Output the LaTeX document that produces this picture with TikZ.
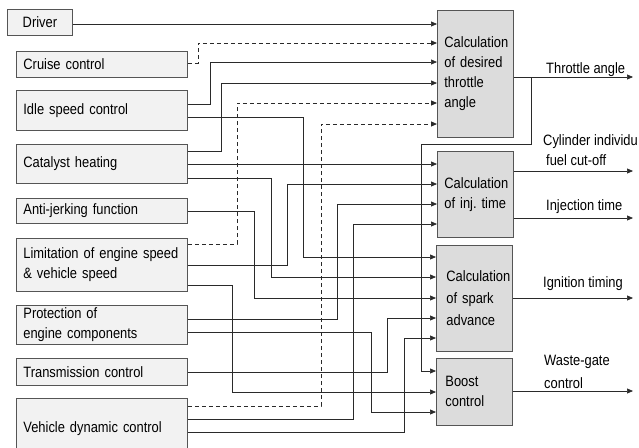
\documentclass[tikz,border=0pt]{standalone}
\usepackage{fontspec}
\setmainfont{Liberation Sans}[FakeStretch=0.86]
\usetikzlibrary{arrows.meta}
\definecolor{lbox}{HTML}{F2F2F2}
\definecolor{rbox}{HTML}{DCDCDC}
\definecolor{edgec}{HTML}{555555}
\definecolor{wirec}{HTML}{2A2A2A}
\begin{document}
\begin{tikzpicture}[x=1pt,y=-1pt,
  every node/.style={font=\fontsize{15}{20}\selectfont},
  lbx/.style={draw=edgec, fill=lbox, line width=0.8pt, anchor=north west, inner xsep=7pt, inner ysep=0pt, minimum width=171pt, text width=157pt, align=left},
  rbx/.style={draw=edgec, fill=rbox, line width=0.8pt, anchor=north west, inner xsep=7pt, inner ysep=0pt, minimum width=76pt, text width=62pt, align=left},
  wire/.style={draw=wirec, line width=0.7pt},
  arr/.style={wire, -{Triangle[length=6pt,width=5pt]}},
  dsh/.style={line width=1pt, dash pattern=on 4pt off 3pt},
  lbl/.style={anchor=base west, inner sep=0pt}]
\useasboundingbox (0,0) rectangle (639,447);
\begin{scope}
\clip (0,0) rectangle (639,447);
% left boxes
\node[draw=edgec, fill=lbox, line width=0.8pt, anchor=north west, minimum width=65pt, minimum height=26pt, inner sep=0pt] (drv) at (7,9) {Driver};
\node[lbx, minimum height=26pt] (cru) at (16,51) {Cruise control};
\node[lbx, minimum height=40pt] (idl) at (16,90) {Idle speed control};
\node[lbx, minimum height=39pt] (cat) at (16,144) {Catalyst heating};
\node[lbx, minimum height=25pt] (ajf) at (16,198) {Anti-jerking function};
\node[lbx, minimum height=53pt] (lim) at (16,238) {Limitation of engine speed\\\& vehicle speed};
\node[lbx, minimum height=39pt] (pro) at (16,305) {Protection of\\engine components};
\node[lbx, minimum height=27pt] (trc) at (16,358) {Transmission control};
\node[lbx, minimum height=60pt] (vdc) at (16,398) {Vehicle dynamic control};
% right boxes
\node[rbx, minimum height=127pt] (thr) at (437,10) {Calculation\\of desired\\throttle\\angle};
\node[rbx, minimum height=86pt] (inj) at (437,151) {Calculation\\of~inj.~time};
\node[rbx, minimum height=106pt, inner xsep=10pt, text width=56pt, font=\fontsize{15}{22}\selectfont] (spk) at (436,245) {Calculation\\of spark\\advance};
\node[rbx, minimum height=67pt, inner xsep=9pt, text width=58pt] (bst) at (436,358) {Boost\\control};
% inputs to throttle calculation
\draw[arr] (drv.east |- 0,24) -- (thr.west |- 0,24);
\draw[arr,dsh] (cru.east |- 0,63) -- (198,63) |- (thr.west |- 0,43);
\draw[arr] (idl.east |- 0,104) -- (210,104) |- (thr.west |- 0,62);
\draw[arr] (cat.east |- 0,151) -- (221,151) |- (thr.west |- 0,83);
\draw[arr,dsh] (lim.east |- 0,244) -- (237,244) |- (thr.west |- 0,103);
\draw[arr,dsh] (vdc.east |- 0,406) -- (321,406) |- (thr.west |- 0,124);
% other inputs
\draw[arr] (idl.east |- 0,117) -- (303,117) |- (spk.west |- 0,257);
\draw[arr] (cat.east |- 0,164) -- (inj.west |- 0,164);
\draw[arr] (cat.east |- 0,178) -- (271,178) |- (spk.west |- 0,277);
\draw[arr] (ajf.east |- 0,211) -- (254,211) |- (spk.west |- 0,298);
\draw[arr] (lim.east |- 0,265) -- (287,265) |- (inj.west |- 0,184);
\draw[arr] (lim.east |- 0,285) -- (232,285) |- (bst.west |- 0,392);
\draw[arr] (pro.east |- 0,319) -- (337,319) |- (inj.west |- 0,204);
\draw[arr] (pro.east |- 0,332) -- (371,332) |- (bst.west |- 0,412);
\draw[arr] (trc.east |- 0,372) -- (387,372) |- (spk.west |- 0,318);
\draw[arr] (vdc.east |- 0,419) -- (353,419) |- (inj.west |- 0,224);
\draw[arr] (vdc.east |- 0,432) -- (404,432) |- (spk.west |- 0,338);
% outputs
\coordinate (o1) at (633,77);
\coordinate (o2) at (633,171);
\coordinate (o3) at (633,218);
\coordinate (o4) at (633,298);
\coordinate (o5) at (633,391);
\coordinate (br) at (531,77);
\draw[arr] (thr.east |- o1) -- (o1);
\draw[arr] (br) |- (421,144) |- (bst.west |- 0,371);
\draw[arr] (inj.east |- o2) -- (o2);
\draw[arr] (inj.east |- o3) -- (o3);
\draw[arr] (spk.east |- o4) -- (o4);
\draw[arr] (bst.east |- o5) -- (o5);
% labels
\node[lbl] (l1) at (546,73.5) {Throttle angle};
\node[lbl] (l2) at (543,145.5) {Cylinder individu};
\node[lbl] (l3) at (546,165.5) {fuel cut-off};
\node[lbl] (l4) at (546,210.5) {Injection time};
\node[lbl] (l5) at (543,287.5) {Ignition timing};
\node[lbl] (l6) at (544,365.5) {Waste-gate};
\node[lbl] (l7) at (544,388.5) {control};
\end{scope}
\end{tikzpicture}
\end{document}
